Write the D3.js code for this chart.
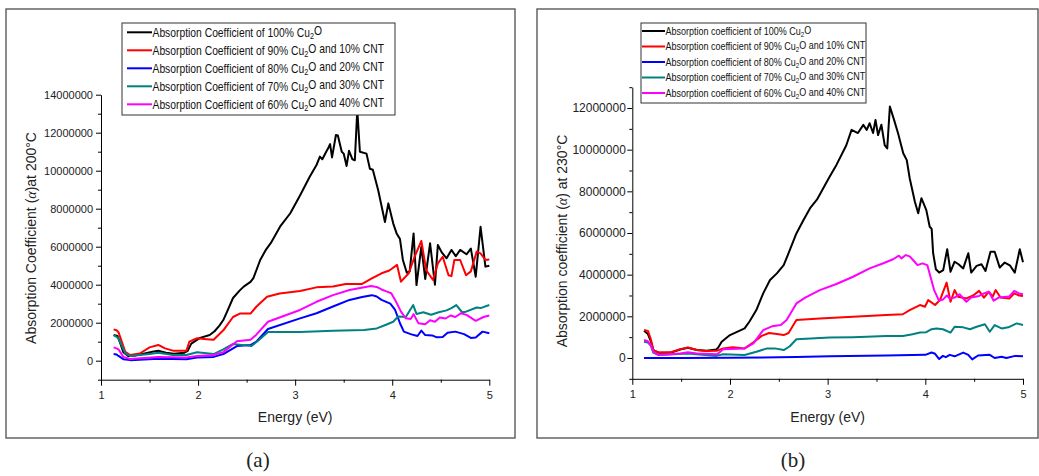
<!DOCTYPE html>
<html>
<head>
<meta charset="utf-8">
<script src="https://cdn.jsdelivr.net/npm/d3@7"></script>
<style>
  body { margin: 0; background: #fff; }
  svg { display: block; }
</style>
</head>
<body>
<script>
const width = 1039, height = 476;

const energyTicks = [1, 2, 3, 4, 5];
const energyMinor = [1.5, 2.5, 3.5, 4.5];
const alphaTicks200 = [0, 2000000, 4000000, 6000000, 8000000, 10000000, 12000000, 14000000];
const alphaTicks230 = [0, 2000000, 4000000, 6000000, 8000000, 10000000, 12000000];

const names200 = [
  "Absorption Coefficient of 100% Cu2O",
  "Absorption Coefficient of 90% Cu2O and 10% CNT",
  "Absorption Coefficient of 80% Cu2O and 20% CNT",
  "Absorption Coefficient of 70% Cu2O and 30% CNT",
  "Absorption Coefficient of 60% Cu2O and 40% CNT"
];
const names230 = [
  "Absorption coefficient of 100% Cu2O",
  "Absorption coefficient of 90% Cu2O and 10% CNT",
  "Absorption coefficient of 80% Cu2O and 20% CNT",
  "Absorption coefficient of 70% Cu2O and 30% CNT",
  "Absorption coefficient of 60% Cu2O and 40% CNT"
];
const colors = ["#000000", "#ff0000", "#0000ff", "#008080", "#ff00ff"];

// [energy (eV), alpha in units of 10^6]
const cu100_200 = [[1.13,1.35],[1.17,1.3],[1.2,0.9],[1.23,0.45],[1.28,0.25],[1.36,0.28],[1.45,0.38],[1.53,0.47],[1.59,0.52],[1.67,0.42],[1.75,0.36],[1.86,0.42],[1.89,0.5],[1.93,0.9],[2.02,1.2],[2.12,1.35],[2.17,1.55],[2.22,1.85],[2.26,2.14],[2.3,2.6],[2.36,3.3],[2.43,3.7],[2.47,3.9],[2.54,4.15],[2.57,4.35],[2.64,5.3],[2.7,5.85],[2.75,6.2],[2.85,7.1],[2.95,7.76],[3.05,8.7],[3.15,9.68],[3.22,10.3],[3.255,10.74],[3.28,10.6],[3.32,11.0],[3.34,11.18],[3.36,11.4],[3.38,10.7],[3.42,11.88],[3.44,11.85],[3.48,11.0],[3.5,10.9],[3.53,10.25],[3.555,11.05],[3.59,10.6],[3.615,10.55],[3.64,13.2],[3.667,11.0],[3.735,10.9],[3.77,10.1],[3.8,10.05],[3.855,8.98],[3.925,7.3],[3.96,8.28],[4.01,7.23],[4.045,6.7],[4.08,6.4],[4.11,5.3],[4.15,4.63],[4.18,4.7],[4.22,6.7],[4.25,3.98],[4.3,6.0],[4.34,4.3],[4.39,6.18],[4.44,4.0],[4.47,6.09],[4.51,5.7],[4.56,5.39],[4.61,5.83],[4.655,5.5],[4.7,5.83],[4.765,5.6],[4.81,5.9],[4.86,4.42],[4.91,7.05],[4.96,4.95],[5.0,5.0]];
const cu90_200 = [[1.13,1.65],[1.16,1.6],[1.18,1.5],[1.25,0.47],[1.3,0.3],[1.4,0.38],[1.5,0.7],[1.59,0.83],[1.66,0.65],[1.74,0.53],[1.88,0.53],[1.91,1.0],[1.99,1.18],[2.09,1.13],[2.16,1.1],[2.26,1.6],[2.36,2.3],[2.43,2.48],[2.54,2.48],[2.6,2.84],[2.71,3.37],[2.84,3.54],[3.05,3.67],[3.22,3.86],[3.39,3.9],[3.52,4.04],[3.69,4.04],[3.79,4.33],[3.89,4.6],[3.97,4.75],[4.05,5.04],[4.09,4.16],[4.17,4.6],[4.23,5.47],[4.3,6.3],[4.35,4.77],[4.42,4.25],[4.47,5.12],[4.52,5.47],[4.58,4.5],[4.61,4.45],[4.64,5.3],[4.7,5.3],[4.76,4.5],[4.81,4.7],[4.87,5.74],[4.91,5.65],[4.96,5.3],[5.0,5.32]];
const cu80_200 = [[1.13,0.35],[1.16,0.33],[1.18,0.25],[1.23,0.08],[1.3,0.03],[1.59,0.1],[1.88,0.08],[1.99,0.17],[2.16,0.2],[2.26,0.35],[2.4,0.77],[2.54,0.82],[2.6,1.0],[2.72,1.67],[3.05,2.23],[3.22,2.5],[3.39,2.85],[3.56,3.2],[3.69,3.35],[3.79,3.45],[3.84,3.38],[3.89,3.2],[3.98,3.0],[4.03,2.67],[4.08,1.97],[4.12,1.53],[4.19,1.4],[4.26,1.3],[4.3,1.58],[4.34,1.35],[4.41,1.33],[4.46,1.23],[4.52,1.25],[4.57,1.47],[4.65,1.53],[4.74,1.4],[4.81,1.2],[4.86,1.22],[4.93,1.53],[5.0,1.45]];
const cu70_200 = [[1.13,1.35],[1.16,1.25],[1.18,1.18],[1.25,0.39],[1.3,0.25],[1.5,0.35],[1.59,0.42],[1.74,0.3],[1.88,0.3],[1.99,0.44],[2.16,0.35],[2.26,0.6],[2.36,0.88],[2.47,0.82],[2.55,0.77],[2.63,1.1],[2.72,1.51],[3.05,1.51],[3.39,1.58],[3.71,1.62],[3.84,1.7],[3.93,1.88],[4.01,2.05],[4.06,2.32],[4.14,2.3],[4.216,2.93],[4.25,2.46],[4.32,2.55],[4.4,2.42],[4.48,2.55],[4.56,2.65],[4.61,2.77],[4.66,2.93],[4.72,2.55],[4.76,2.58],[4.87,2.8],[4.91,2.77],[5.0,2.93]];
const cu60_200 = [[1.13,0.7],[1.16,0.65],[1.18,0.6],[1.23,0.2],[1.3,0.09],[1.59,0.2],[1.88,0.17],[1.99,0.25],[2.16,0.3],[2.26,0.45],[2.4,1.02],[2.54,1.1],[2.6,1.37],[2.72,2.05],[3.05,2.67],[3.22,3.1],[3.39,3.45],[3.56,3.72],[3.78,3.93],[3.84,3.88],[3.89,3.75],[3.94,3.65],[3.99,3.55],[4.03,3.2],[4.09,2.58],[4.14,2.23],[4.19,2.2],[4.22,2.45],[4.27,1.97],[4.34,1.92],[4.39,2.13],[4.44,2.05],[4.49,2.27],[4.55,2.22],[4.6,2.38],[4.65,2.3],[4.71,2.5],[4.77,2.4],[4.86,2.1],[4.94,2.3],[5.0,2.38]];

const cu100_230 = [[1.12,1.31],[1.16,1.15],[1.19,0.8],[1.215,0.38],[1.27,0.25],[1.39,0.25],[1.49,0.41],[1.57,0.49],[1.66,0.38],[1.76,0.35],[1.86,0.41],[1.88,0.5],[1.915,0.78],[2.0,1.1],[2.1,1.31],[2.15,1.42],[2.2,1.75],[2.27,2.3],[2.34,3.1],[2.41,3.74],[2.48,4.06],[2.55,4.46],[2.6,5.03],[2.68,5.98],[2.75,6.6],[2.82,7.19],[2.89,7.6],[3.02,8.7],[3.09,9.27],[3.19,10.2],[3.245,10.95],[3.31,10.8],[3.365,11.19],[3.4,10.95],[3.43,11.27],[3.465,10.8],[3.49,11.43],[3.516,10.7],[3.55,11.2],[3.584,10.22],[3.61,10.06],[3.637,12.07],[3.68,11.43],[3.72,10.8],[3.774,9.83],[3.81,9.5],[3.84,8.63],[3.893,7.5],[3.927,6.95],[3.96,7.67],[4.01,7.1],[4.045,6.3],[4.065,6.2],[4.08,5.03],[4.108,4.26],[4.142,4.1],[4.183,4.22],[4.224,5.22],[4.258,4.14],[4.3,4.62],[4.34,4.5],[4.388,4.3],[4.44,5.03],[4.47,4.1],[4.525,4.42],[4.575,4.5],[4.616,4.18],[4.667,5.1],[4.71,5.1],[4.762,4.34],[4.813,4.58],[4.865,4.45],[4.916,4.1],[4.967,5.22],[5.0,4.6]];
const cu90_230 = [[1.12,1.34],[1.16,1.3],[1.19,0.9],[1.215,0.38],[1.27,0.26],[1.39,0.27],[1.49,0.42],[1.57,0.5],[1.66,0.38],[1.76,0.33],[1.87,0.35],[1.93,0.46],[2.03,0.51],[2.15,0.46],[2.24,0.75],[2.32,1.05],[2.4,1.2],[2.48,1.15],[2.55,1.1],[2.6,1.2],[2.68,1.82],[2.92,1.9],[3.26,1.98],[3.6,2.06],[3.77,2.1],[3.84,2.3],[3.945,2.54],[3.996,2.46],[4.03,2.78],[4.1,2.54],[4.15,2.78],[4.218,3.62],[4.258,2.7],[4.3,3.26],[4.335,2.94],[4.42,2.86],[4.49,3.0],[4.55,3.22],[4.6,2.9],[4.65,3.18],[4.69,2.95],[4.72,3.26],[4.77,2.9],[4.86,2.85],[4.91,3.1],[4.96,3.0],[5.0,2.98]];
const cu80_230 = [[1.12,0.0],[1.5,0.0],[2.0,0.01],[2.5,0.03],[2.68,0.05],[3.02,0.08],[3.6,0.12],[4.0,0.15],[4.064,0.26],[4.1,0.2],[4.142,-0.05],[4.18,0.1],[4.21,0.04],[4.25,0.15],[4.3,0.08],[4.388,0.26],[4.44,0.15],[4.48,-0.07],[4.54,0.12],[4.66,0.15],[4.71,0.0],[4.78,0.06],[4.83,0.0],[4.92,0.1],[5.0,0.08]];
const cu70_230 = [[1.12,0.78],[1.16,0.74],[1.19,0.6],[1.215,0.26],[1.27,0.14],[1.57,0.22],[1.86,0.1],[1.93,0.18],[2.15,0.14],[2.27,0.3],[2.38,0.46],[2.46,0.46],[2.55,0.38],[2.61,0.55],[2.68,0.9],[3.02,0.98],[3.26,1.0],[3.6,1.06],[3.77,1.06],[3.87,1.14],[3.945,1.22],[4.01,1.24],[4.064,1.38],[4.115,1.42],[4.18,1.38],[4.258,1.22],[4.3,1.5],[4.388,1.47],[4.457,1.38],[4.525,1.5],[4.61,1.62],[4.66,1.26],[4.71,1.58],[4.78,1.42],[4.85,1.47],[4.935,1.66],[5.0,1.58]];
const cu60_230 = [[1.12,0.86],[1.16,0.8],[1.19,0.6],[1.215,0.3],[1.27,0.14],[1.49,0.22],[1.57,0.27],[1.66,0.22],[1.87,0.18],[1.93,0.42],[2.15,0.46],[2.24,0.7],[2.34,1.34],[2.43,1.52],[2.52,1.58],[2.58,1.82],[2.68,2.62],[2.77,2.9],[2.92,3.26],[3.09,3.55],[3.26,3.9],[3.43,4.3],[3.57,4.55],[3.67,4.74],[3.73,4.91],[3.755,4.78],[3.8,4.94],[3.84,4.88],[3.89,4.62],[3.92,4.46],[3.97,4.54],[4.02,4.46],[4.09,3.26],[4.14,2.75],[4.18,2.8],[4.22,3.0],[4.25,2.85],[4.3,2.9],[4.35,3.06],[4.42,2.7],[4.47,2.9],[4.55,2.98],[4.6,3.1],[4.65,3.18],[4.7,2.75],[4.75,2.9],[4.86,2.95],[4.91,3.22],[4.96,3.1],[5.0,3.06]];

const svg = d3.select("body").append("svg")
    .attr("width", width)
    .attr("height", height)
    .style("font-family", "'Liberation Sans', Arial, sans-serif");

function addLabel(text, s) {
  const [a, b] = s.split("Cu2O");
  text.append("tspan").text(a + "Cu");
  text.append("tspan").attr("dy", "0.3em").attr("font-size", "70%").text("2");
  text.append("tspan").attr("dy", "-0.3em").text("O" + (b || ""));
}

function panel(o) {
  const g = svg.append("g");

  g.append("rect")
      .attr("x", o.frame[0]).attr("y", o.frame[1])
      .attr("width", o.frame[2] - o.frame[0]).attr("height", o.frame[3] - o.frame[1])
      .attr("fill", "none").attr("stroke", "#5a5a5a").attr("stroke-width", 1.4);

  const x = d3.scaleLinear().domain([1, 5]).range(o.xr);
  const y = d3.scaleLinear().domain(o.yd).range(o.yr);
  const line = d3.line().x(d => x(d[0])).y(d => y(d[1] * 1e6));

  g.selectAll("path.series")
    .data(o.series)
    .join("path")
      .attr("class", "series")
      .attr("fill", "none")
      .attr("stroke", (d, i) => colors[i])
      .attr("stroke-width", 2)
      .attr("stroke-linejoin", "round")
      .attr("d", line);

  const fontFam = "'Liberation Sans', Arial, sans-serif";

  const xa = g.append("g").attr("transform", `translate(0,${o.yr[0]})`);
  xa.call(d3.axisBottom(x).tickValues(energyTicks).tickSize(6).tickSizeOuter(0).tickPadding(5.5).tickFormat(d3.format("d")));
  xa.attr("font-size", 11).attr("font-family", fontFam);
  xa.append("g").call(d3.axisBottom(x).tickValues(energyMinor).tickSize(3).tickFormat(""))
    .call(s => s.select(".domain").remove());

  const ya = g.append("g").attr("transform", `translate(${o.xr[0]},0)`);
  ya.call(d3.axisLeft(y).tickValues(o.yTicks).tickSize(5).tickSizeOuter(0).tickPadding(o.yPad).tickFormat(d3.format("d")));
  ya.attr("font-size", o.yFont).attr("font-family", fontFam);
  ya.append("g").call(d3.axisLeft(y).tickValues(d3.range(o.yd[0], o.yd[1] + 1, 2000000)).tickSize(3).tickFormat(""))
    .call(s => s.select(".domain").remove());

  g.selectAll(".tick text").attr("fill", "#222");

  g.append("text")
      .attr("x", d3.mean(o.xr)).attr("y", 422)
      .attr("text-anchor", "middle")
      .attr("font-size", 14)
      .attr("fill", "#222")
      .text("Energy (eV)");

  const yt = g.append("text")
      .attr("transform", `translate(${o.yTitle[0]},${o.yTitle[1]}) rotate(-90)`)
      .attr("text-anchor", "middle")
      .attr("font-size", o.yTitle[2])
      .attr("fill", "#222");
  yt.append("tspan").text(o.yTitle[3]);
  yt.append("tspan").attr("font-style", "italic").attr("font-family", "'Liberation Serif', serif").text("α");
  yt.append("tspan").text(o.yTitle[4]);

  const L = o.legend;
  const lg = g.append("g").attr("transform", `translate(${L.x},${L.y})`);
  lg.append("rect")
      .attr("width", L.w).attr("height", L.h)
      .attr("fill", "#fff").attr("stroke", "#333").attr("stroke-width", 1);
  const row = lg.selectAll("g.row")
    .data(o.names)
    .join("g")
      .attr("class", "row")
      .attr("transform", (d, i) => `translate(0,${L.top + i * L.step})`);
  row.append("line")
      .attr("x1", L.l0).attr("x2", L.l1)
      .attr("stroke", (d, i) => colors[i])
      .attr("stroke-width", 2);
  row.append("text")
      .attr("transform", `translate(${L.l1 + 0.5},0) scale(${L.sx},1)`)
      .attr("dy", "0.35em")
      .attr("font-size", L.font)
      .attr("fill", "#111")
      .each(function(d) { addLabel(d3.select(this), d); });

  svg.append("text")
      .attr("x", o.caption[0]).attr("y", 467)
      .attr("text-anchor", "middle")
      .attr("font-family", "'Liberation Serif', 'Times New Roman', serif")
      .attr("font-size", 21)
      .attr("fill", "#222")
      .text(o.caption[1]);
}

panel({
  frame: [6, 9, 515, 438],
  xr: [101, 489.3],
  yd: [-1000000, 14000000],
  yr: [379.7, 94.7],
  yTicks: alphaTicks200,
  yFont: 11,
  yPad: 3,
  yTitle: [36, 238, 14, "Absorption Coefficient (", ")at 200°C"],
  series: [cu100_200, cu90_200, cu80_200, cu70_200, cu60_200],
  names: names200,
  legend: {x: 122, y: 23, w: 273, h: 92, top: 9.3, step: 18, l0: 5, l1: 30, font: 12, sx: 0.86},
  caption: [258, "(a)"]
});

panel({
  frame: [537, 9, 1038, 438],
  xr: [632.3, 1023],
  yd: [-1000000, 13000000],
  yr: [378.8, 87.2],
  yTicks: alphaTicks230,
  yFont: 12,
  yPad: 1.5,
  yTitle: [567, 241, 14, "Absorption coefficient (", ") at 230°C"],
  series: [cu100_230, cu90_230, cu80_230, cu70_230, cu60_230],
  names: names230,
  legend: {x: 641, y: 23, w: 225, h: 80, top: 8, step: 15.5, l0: 1, l1: 24, font: 10, sx: 0.9},
  caption: [793, "(b)"]
});
</script>
</body>
</html>
